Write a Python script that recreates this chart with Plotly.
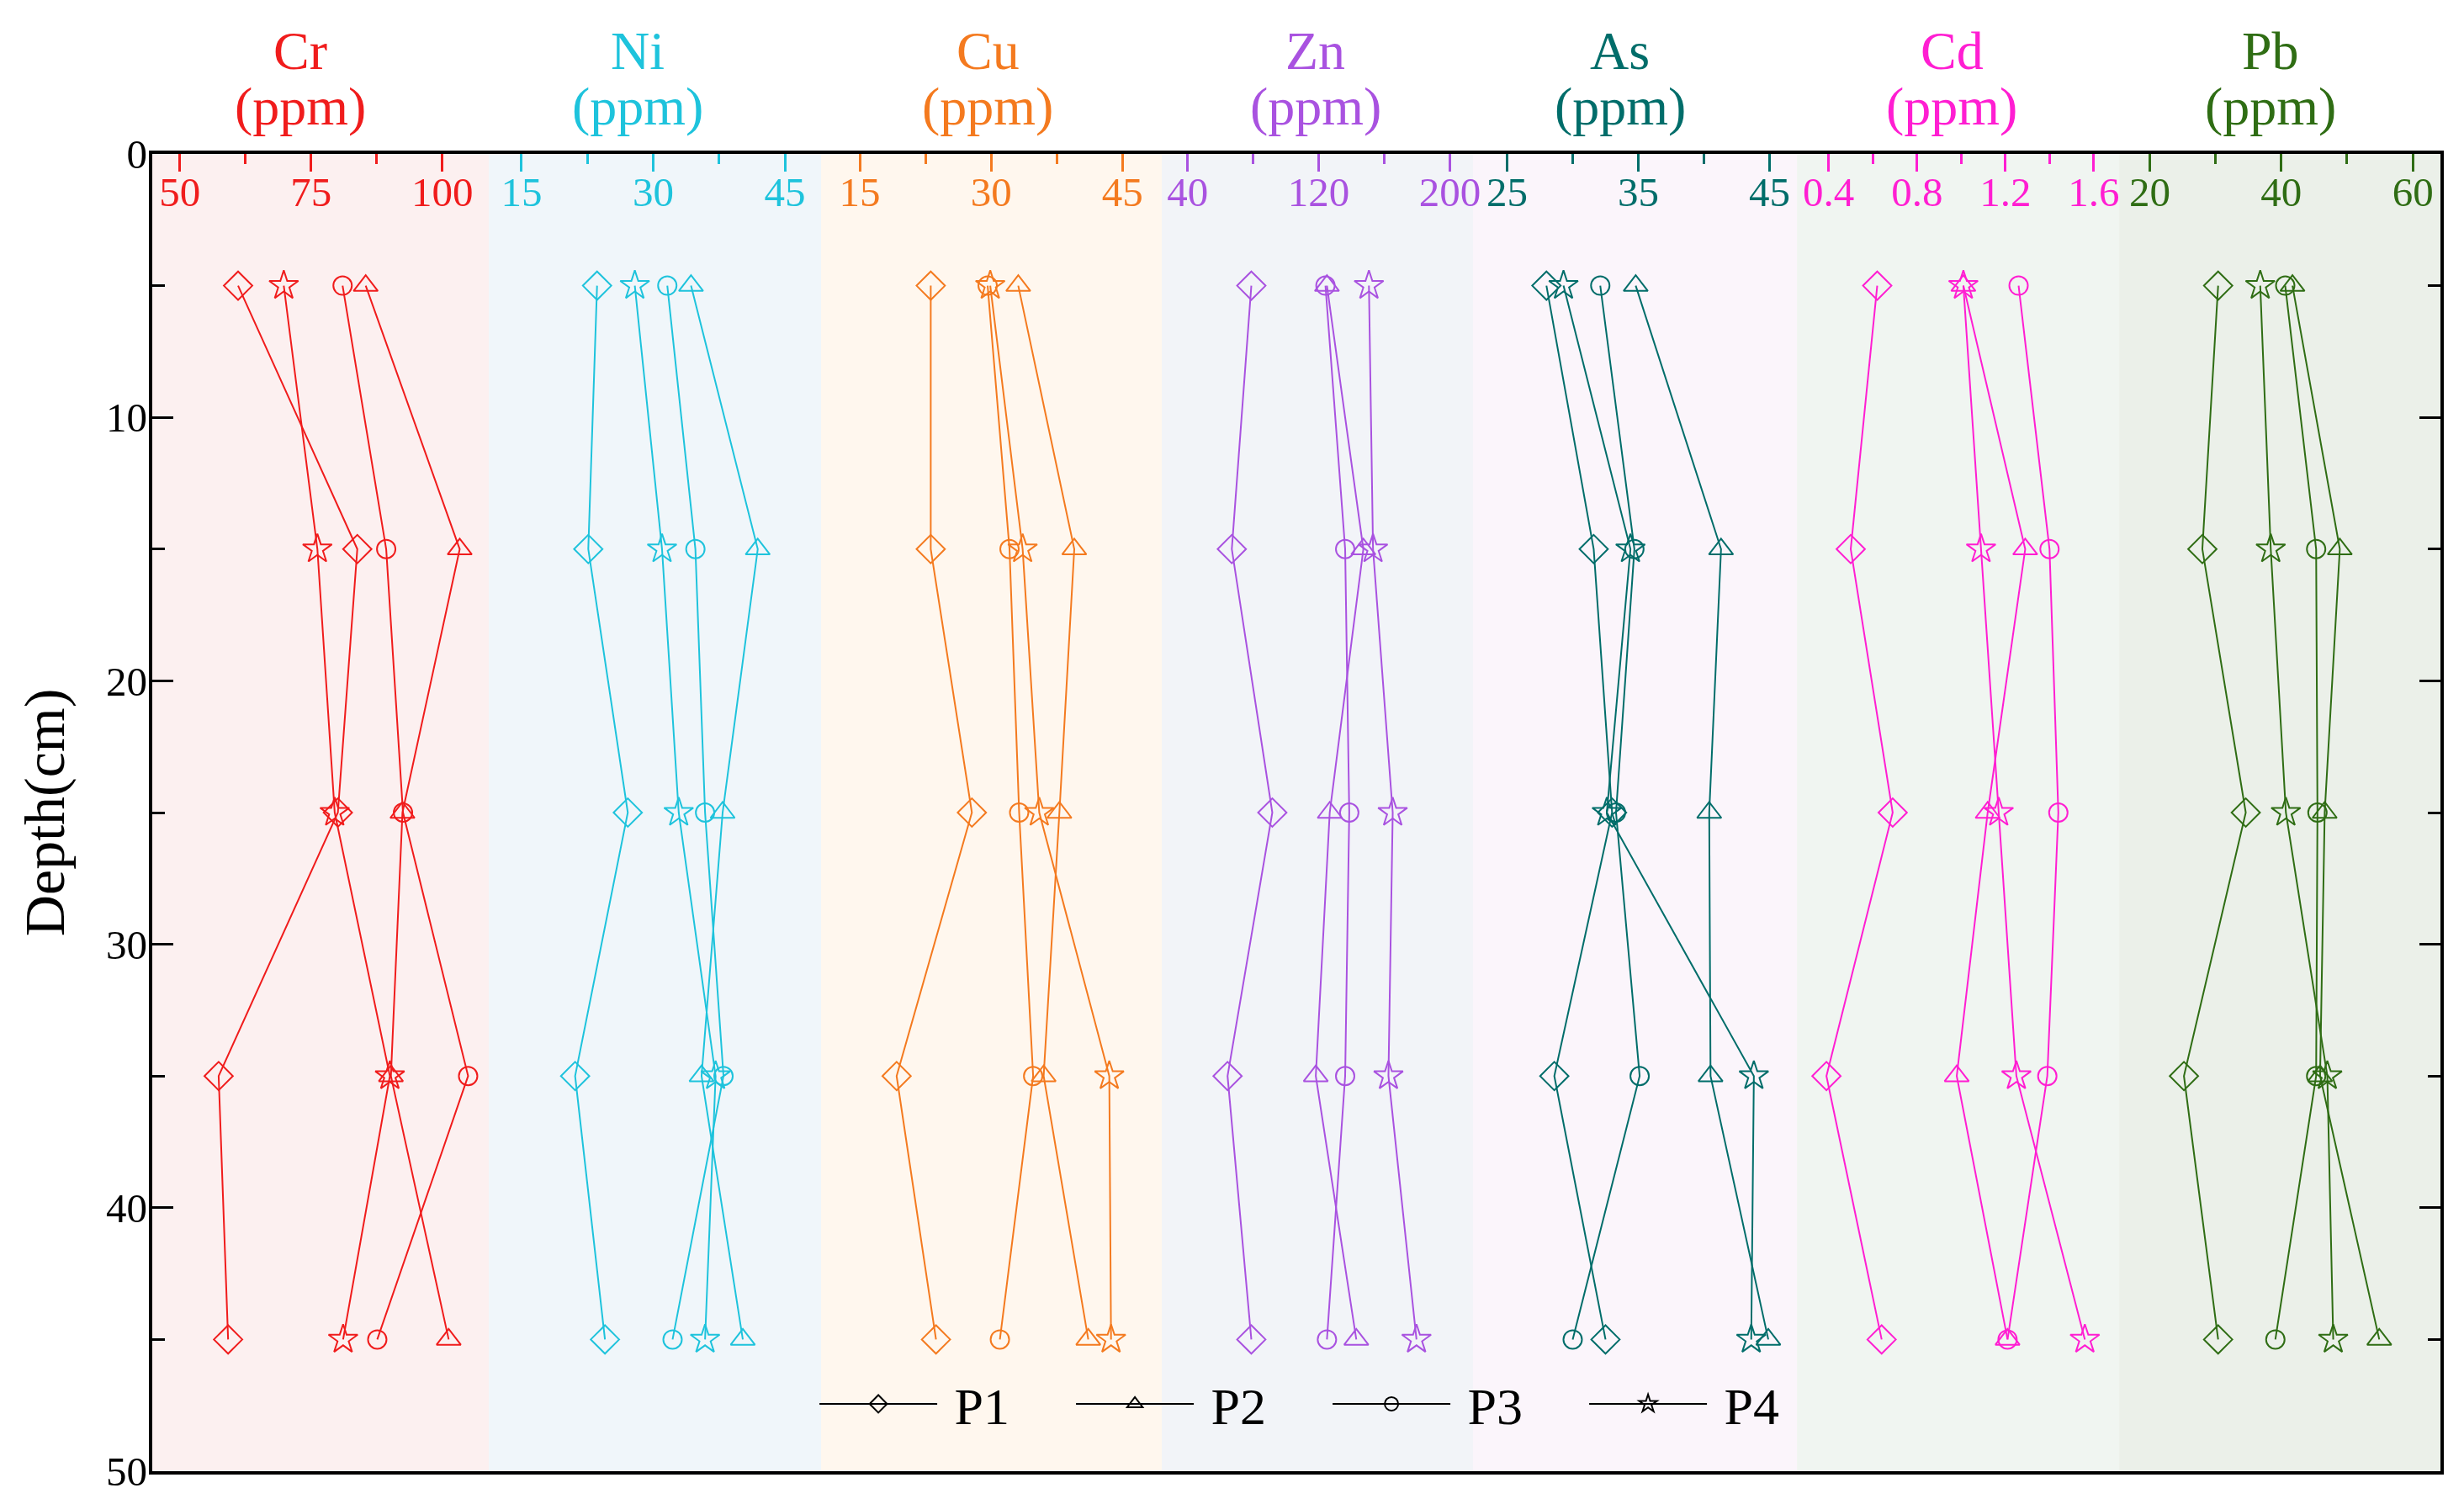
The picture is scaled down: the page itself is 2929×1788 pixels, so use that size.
import plotly.graph_objects as go

# ---------------- data ----------------
depths = [5, 15, 25, 35, 45]
series_names = ["P1", "P2", "P3", "P4"]
elements = ["Cr", "Ni", "Cu", "Zn", "As", "Cd", "Pb"]

# values per element: rows = P1, P2, P3, P4 ; columns = depths
cr_values = [[61.1, 83.8, 80.1, 57.4, 59.2],
             [85.4, 103.3, 92.4, 90.2, 101.2],
             [81.0, 89.3, 92.5, 104.9, 87.6],
             [69.8, 76.2, 79.5, 90.0, 81.1]]
ni_values = [[23.6, 22.6, 27.1, 21.1, 24.5],
             [34.3, 41.9, 37.9, 35.5, 40.2],
             [31.6, 34.8, 35.9, 38.0, 32.2],
             [27.9, 31.0, 32.9, 37.1, 35.9]]
cu_values = [[23.1, 23.1, 27.8, 19.2, 23.7],
             [33.1, 39.5, 37.8, 36.0, 41.1],
             [29.6, 32.1, 33.2, 34.8, 31.0],
             [29.9, 33.6, 35.5, 43.5, 43.7]]
zn_values = [[78.9, 67.0, 91.7, 64.4, 78.9],
             [125.0, 147.2, 126.7, 118.2, 142.9],
             [124.1, 136.1, 138.6, 136.1, 125.0],
             [150.6, 153.1, 165.1, 162.5, 179.6]]
as_values = [[28.0, 31.6, 33.0, 28.6, 32.5],
             [34.8, 41.3, 40.4, 40.5, 44.9],
             [32.1, 34.7, 33.3, 35.1, 30.0],
             [29.3, 34.4, 32.6, 43.8, 43.6]]
cd_values = [[0.62, 0.50, 0.69, 0.39, 0.64],
             [1.01, 1.29, 1.12, 0.98, 1.21],
             [1.26, 1.40, 1.44, 1.39, 1.21],
             [1.01, 1.09, 1.17, 1.25, 1.56]]
pb_values = [[30.4, 28.0, 34.6, 25.2, 30.4],
             [41.7, 48.9, 46.6, 45.9, 54.9],
             [40.6, 45.3, 45.5, 45.3, 39.1],
             [36.8, 38.4, 40.7, 47.0, 47.9]]

cr_ticks = [50, 75, 100]
ni_ticks = [15, 30, 45]
cu_ticks = [15, 30, 45]
zn_ticks = [40, 120, 200]
as_ticks = [25, 35, 45]
cd_ticks = [0.4, 0.8, 1.2, 1.6]
pb_ticks = [20, 40, 60]
cd_tick_text = ["0.4", "0.8", "1.2", "1.6"]

depth_ticks = [0, 10, 20, 30, 40, 50]
depth_minor = [5, 15, 25, 35, 45]

all_values = [cr_values, ni_values, cu_values, zn_values, as_values, cd_values, pb_values]
all_ticks = [cr_ticks, ni_ticks, cu_ticks, zn_ticks, as_ticks, cd_ticks, pb_ticks]

# ---------------- styles / layout ----------------
FONT = "Liberation Serif"
colors = ["#f01c1c", "#1ec3dc", "#f47a1f", "#a952e0", "#006d6a", "#ff1ed2", "#2f6d14"]
bgs = ["#fcf0f0", "#f0f6fa", "#fff7ee", "#f2f4f8", "#fbf5fb", "#f0f5f1", "#ebf0e9"]
bg_edges = [0, 0.1471, 0.2923, 0.4412, 0.5772, 0.7188, 0.8596, 1.0]
x_ranges = [[44.76, 107.0], [10.17, 47.4], [8.85, 46.2], [6.7, 206.0],
            [21.4, 46.3], [0.21, 1.69], [14.5, 64.2]]
title_shift = [-13, -19, -4, -4, -22, -11, -13]
symbols = ["diamond-open", "triangle-up-open", "circle-open", "star-open"]
msizes = [26, 25, 22, 26]

fig = go.Figure()
n = len(elements)
layout = {}
annotations = []
shapes = []

for i, el in enumerate(elements):
    xa = "x" if i == 0 else f"x{i+1}"
    xkey = "xaxis" if i == 0 else f"xaxis{i+1}"
    vals = all_values[i]
    for j, name in enumerate(series_names):
        fig.add_trace(go.Scatter(
            x=vals[j], y=depths, xaxis=xa, yaxis="y", mode="lines+markers",
            name=name, showlegend=False, cliponaxis=False,
            line=dict(color=colors[i], width=2),
            marker=dict(symbol=symbols[j], size=msizes[j], color=colors[i],
                        line=dict(width=2, color=colors[i])),
        ))
    ticks = all_ticks[i]
    ttext = cd_tick_text if el == "Cd" else [str(t) for t in ticks]
    minor_vals = [(a + b) / 2 for a, b in zip(ticks[:-1], ticks[1:])]
    layout[xkey] = dict(
        domain=[i / n, (i + 1) / n], anchor="y", side="top",
        range=x_ranges[i], tickmode="array", tickvals=ticks, ticktext=ttext,
        ticks="inside", ticklen=21, tickwidth=3, tickcolor=colors[i],
        ticklabelposition="inside", ticklabelstandoff=14, ticklabeloverflow="allow",
        tickfont=dict(family=FONT, size=49, color=colors[i]),
        minor=dict(tickmode="array", tickvals=minor_vals, ticks="inside",
                   ticklen=12, tickwidth=3, tickcolor=colors[i]),
        showline=True, linecolor="black", linewidth=4, mirror=True,
        showgrid=False, zeroline=False, fixedrange=True,
    )
    mid = (ticks[0] + ticks[-1]) / 2
    annotations.append(dict(text=el, x=mid, xref=xa, y=1.0785, yref="paper",
                            xshift=title_shift[i],
                            showarrow=False, xanchor="center", yanchor="middle",
                            font=dict(family=FONT, size=64, color=colors[i])))
    annotations.append(dict(text="(ppm)", x=mid, xref=xa, y=1.0358, yref="paper",
                            xshift=title_shift[i],
                            showarrow=False, xanchor="center", yanchor="middle",
                            font=dict(family=FONT, size=64, color=colors[i])))
    shapes.append(dict(type="rect", xref="paper", yref="paper",
                       x0=bg_edges[i], x1=bg_edges[i + 1], y0=0, y1=1,
                       fillcolor=bgs[i], line=dict(width=0), layer="below"))

# dummy traces carrying the right-hand depth axis and the left label axis
fig.add_trace(go.Scatter(x=[None], y=[None], xaxis="x7", yaxis="y2",
                         showlegend=False, hoverinfo="skip"))
fig.add_trace(go.Scatter(x=[None], y=[None], xaxis="x", yaxis="y3",
                         showlegend=False, hoverinfo="skip"))

# legend entries (black)
for j, name in enumerate(series_names):
    fig.add_trace(go.Scatter(
        x=[None], y=[None], xaxis="x", yaxis="y", mode="lines+markers",
        name="\u00a0" + name,
        line=dict(color="black", width=2),
        marker=dict(symbol=symbols[j], size=msizes[j], color="black",
                    line=dict(width=2, color="black")),
    ))

yaxis_common = dict(
    range=[50, 0], tickmode="array", tickvals=depth_ticks,
    ticks="inside", ticklen=25, tickwidth=3, tickcolor="black",
    minor=dict(tickmode="array", tickvals=depth_minor, ticks="inside",
               ticklen=15, tickwidth=3, tickcolor="black"),
    showline=True, linecolor="black", linewidth=4,
    showgrid=False, zeroline=False, fixedrange=True,
)
layout["yaxis"] = dict(domain=[0, 1], anchor="x", side="left",
                       showticklabels=False, **yaxis_common)
layout["yaxis2"] = dict(overlaying="y", anchor="x7", side="right",
                        showticklabels=False, **yaxis_common)
layout["yaxis3"] = dict(overlaying="y", anchor="free", position=0, side="left",
                        range=[50, 0], tickmode="array", tickvals=depth_ticks,
                        ticks="", showline=False, showgrid=False, zeroline=False,
                        ticklabelstandoff=6, fixedrange=True,
                        tickfont=dict(family=FONT, size=49, color="black"))

annotations.append(dict(text="Depth(cm)", x=-0.047, xref="paper", y=0.5, yref="paper",
                        textangle=-90, showarrow=False, xanchor="center", yanchor="middle",
                        font=dict(family=FONT, size=68, color="black")))

fig.update_layout(
    width=2929, height=1788,
    margin=dict(l=173, r=36, t=175, b=47),
    paper_bgcolor="white", plot_bgcolor="white",
    showlegend=True,
    legend=dict(orientation="h", x=0.514, xanchor="center", y=0.051, yanchor="middle",
                font=dict(family=FONT, size=62, color="black"),
                bgcolor="rgba(0,0,0,0)", itemwidth=140, itemsizing="trace",
                entrywidth=150, entrywidthmode="pixels"),
    annotations=annotations, shapes=shapes,
    **layout,
)

fig.write_html("out.html")
